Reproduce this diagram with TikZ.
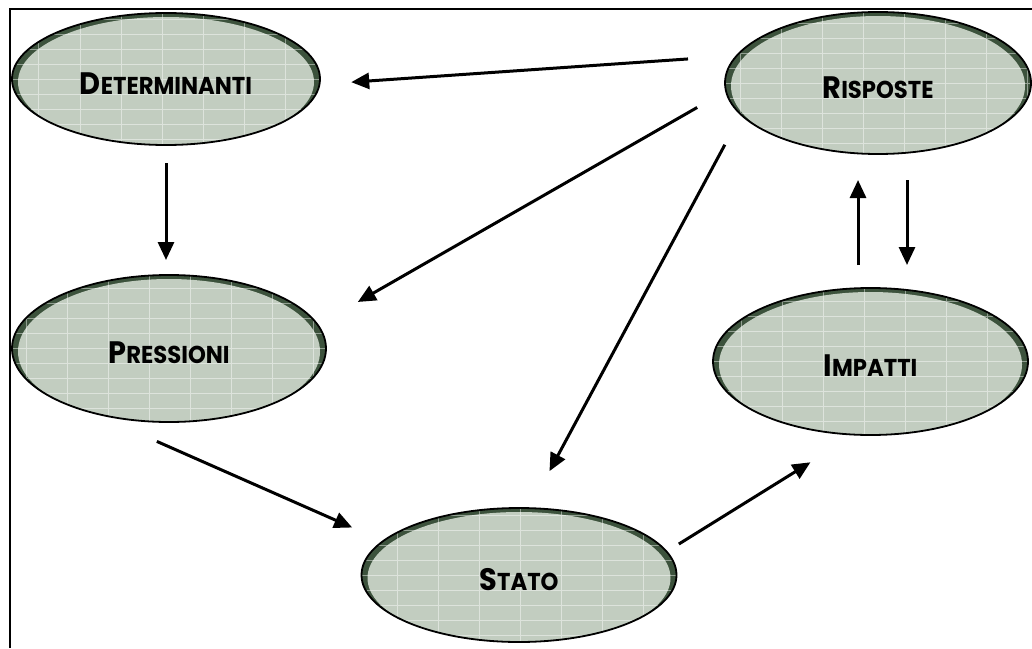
\documentclass[tikz,border=0pt]{standalone}
\usepackage{fontspec}
\setmainfont{Poppins}[FakeStretch=0.93]
\usetikzlibrary{shapes.geometric,arrows.meta,calc}

\definecolor{cellgreen}{RGB}{194,205,192}
\definecolor{edgegreen}{RGB}{60,82,60}
\newcommand\capword[2]{{\fontsize{15.5}{16}\selectfont #1}{\fontsize{12.2}{13}\selectfont #2}}

\tikzset{
  fase/.style={ellipse, draw, line width=0.9pt, inner sep=0pt, outer sep=0pt,
    font=\bfseries, text height=15.3pt, text depth=0pt,
    path picture={
      \fill[edgegreen] (path picture bounding box.south west) rectangle (path picture bounding box.north east);
      \fill[cellgreen] let \p1=($(path picture bounding box.north east)-(path picture bounding box.center)$) in
        ([yshift=-1.5pt]path picture bounding box.center) ellipse [x radius=\x1-3pt, y radius=\y1-0.5pt];
      \draw[white, opacity=.45, line width=.4pt, xstep=20.5pt, ystep=7.5pt]
        (path picture bounding box.south west) grid (path picture bounding box.north east);
    }},
  freccia/.style={-{Triangle[length=9pt,width=8pt]}, line width=1.5pt},
}

\begin{document}
\begin{tikzpicture}[x=0.5pt, y=-0.5pt]
    \useasboundingbox (0,0) rectangle (1032,648);
    \draw[line width=1.1pt] (10,648) -- (10,9) -- (1032,9); % cornice

    \node[fase, minimum width=154pt, minimum height=66pt] (det) at (166,79) {\capword{D}{ETERMINANTI}};
    \node[fase, minimum width=153pt, minimum height=71pt] (ris) at (878,83) {\capword{R}{ISPOSTE}};
    \node[fase, minimum width=157pt, minimum height=73.5pt] (pres) at (169,348.5) {\capword{P}{RESSIONI}};
    \node[fase, minimum width=157.5pt, minimum height=67pt] (stato) at (519,575) {\capword{S}{TATO}};
    \node[fase, minimum width=157.5pt, minimum height=73.5pt] (imp) at (870.5,361.5) {\capword{I}{MPATTI}};

    % frecce
    \draw[freccia, shorten <=9pt, shorten >=7.5pt] (det.south) -- (det.south |- pres.north);
    \draw[freccia, shorten <=24.5pt, shorten >=15.9pt] (ris.169) -- (det.358);
    \draw[freccia, shorten <=16.6pt, shorten >=23.1pt] (ris.183) -- (pres.9);
    \draw[freccia, shorten <=17.1pt, shorten >=21pt] (ris.193) -- (stato.81);
    \draw[freccia, shorten <=36.3pt, shorten >=16.9pt] (pres.219) -- (stato.166);
    \draw[freccia, shorten <=7.2pt, shorten >=26.2pt] (stato.9) -- (imp.258);

    \coordinate (impsu) at ([xshift=-6.25pt]imp.north);
    \coordinate (impgiu) at ([xshift=18.25pt]imp.north);
    \draw[freccia, shorten <=11.5pt, shorten >=13pt] (impsu) -- (impsu |- ris.south);
    \draw[freccia, shorten <=13pt, shorten >=11.5pt] (impgiu |- ris.south) -- (impgiu);
\end{tikzpicture}
\end{document}
